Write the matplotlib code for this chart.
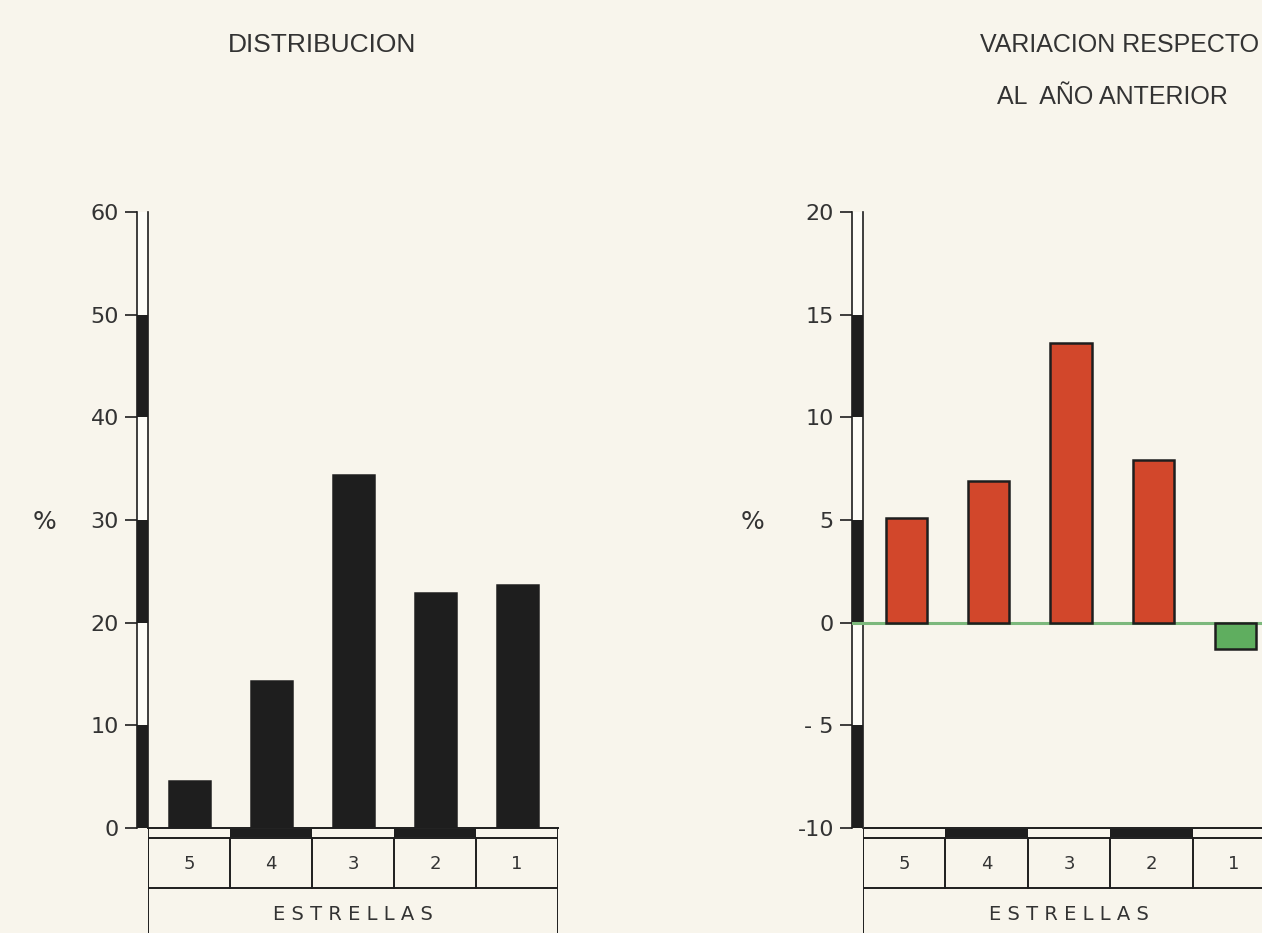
"""Hotel statistics by star category: distribution and yearly variation."""

import matplotlib
matplotlib.use('Agg')
import matplotlib.pyplot as plt
from matplotlib.patches import Rectangle

# Figure size in pixels
W, H = 1262, 933

# Data
categories = ['5', '4', '3', '2', '1']
distribucion = [4.6, 14.3, 34.4, 22.9, 23.7]
variacion = [5.1, 6.9, 13.6, 7.9, -1.3]
left_ticks = [0, 10, 20, 30, 40, 50, 60]
right_ticks = [-10, -5, 0, 5, 10, 15, 20]
tick_labels_left = ['0', '10', '20', '30', '40', '50', '60']
tick_labels_right = ['-10', '- 5', '0', '5', '10', '15', '20']

BG = '#f8f5ec'
INK = '#1e1e1e'
TEXT = '#333333'
RED = '#d2472b'
GREEN = '#5fae5f'


def px_axes(fig, x0, y0, x1, y1):
    """Add axes using pixel coordinates measured from the top-left corner."""
    return fig.add_axes([x0 / W, 1 - y1 / H, (x1 - x0) / W, (y1 - y0) / H])


def draw_scale(fig, x0, x1, ticks, labels):
    """Double-line value axis with alternating black bands."""
    ax = px_axes(fig, x0, 212, x1, 828)
    ax.set_facecolor('#fdfcf7')
    ax.set_xlim(0, 1)
    ax.set_ylim(ticks[0], ticks[-1])
    # black bands on every other interval, starting from the bottom
    for lo, hi in zip(ticks[0:-1:2], ticks[1::2]):
        if hi == ticks[-1]:
            continue
        ax.axhspan(lo, hi, color=INK, lw=0)
    for s in ['top', 'bottom']:
        ax.spines[s].set_visible(False)
    for s in ['left', 'right']:
        ax.spines[s].set_linewidth(1.2)
        ax.spines[s].set_color(INK)
    ax.set_xticks([])
    ax.set_yticks(ticks)
    ax.set_yticklabels(labels, fontsize=16, color=TEXT)
    ax.tick_params(axis='y', length=9, width=1.2, color=INK, pad=4)
    return ax


def draw_table(fig, x0, x1):
    """Category strip, star cells and ESTRELLAS row under the bars."""
    ax = px_axes(fig, x0, 828, x1, 933)
    ax.set_xlim(-0.5, len(categories) - 0.5)
    ax.set_ylim(105, 0)
    ax.axis('off')
    n = len(categories)
    lw = 1.4
    # black segments in the strip for every second column
    for i in range(1, n, 2):
        ax.add_patch(Rectangle((i - 0.5, 1), 1, 8, facecolor=INK, lw=0))
    ax.plot([-0.5, n - 0.5], [10, 10], color=INK, lw=lw)
    ax.plot([-0.5, n - 0.5], [60, 60], color=INK, lw=lw)
    for i in range(n + 1):
        ax.plot([i - 0.5, i - 0.5], [10, 60], color=INK, lw=lw)
    ax.plot([-0.5, -0.5], [0, 105], color=INK, lw=lw)
    ax.plot([n - 0.5, n - 0.5], [0, 105], color=INK, lw=lw)
    for i, c in enumerate(categories):
        ax.text(i, 36, c, ha='center', va='center', fontsize=13, color=TEXT)
    ax.text((n - 1) / 2, 86, 'E S T R E L L A S', ha='center', va='center',
            fontsize=14, color=TEXT)


def draw_bars(fig, x0, x1, values, ticks, colors):
    """Main bar area."""
    ax = px_axes(fig, x0, 212, x1, 828)
    ax.patch.set_alpha(0)
    x = range(len(categories))
    ax.bar(x, values, width=0.5, color=colors, edgecolor=INK, linewidth=1.8)
    ax.set_xlim(-0.5, len(categories) - 0.5)
    ax.set_ylim(ticks[0], ticks[-1])
    for s in ['top', 'right', 'left']:
        ax.spines[s].set_visible(False)
    ax.spines['bottom'].set_linewidth(1.4)
    ax.spines['bottom'].set_color(INK)
    ax.set_xticks([])
    ax.set_yticks([])
    return ax


def main():
    fig = plt.figure(figsize=(W / 100, H / 100), dpi=100)
    fig.patch.set_facecolor(BG)

    # Left panel: distribution
    draw_scale(fig, 137, 148, left_ticks, tick_labels_left)
    draw_bars(fig, 148, 558, distribucion, left_ticks, INK)
    draw_table(fig, 148, 558)
    fig.text(322 / W, 1 - 45 / H, 'DISTRIBUCION', ha='center', va='center',
             fontsize=19, color=TEXT, family='Liberation Sans')
    fig.text(45 / W, 1 - 522 / H, '%', ha='center', va='center',
             fontsize=18, color=TEXT)

    # Right panel: variation from previous year
    draw_scale(fig, 852, 863, right_ticks, tick_labels_right)
    colors = [RED if v >= 0 else GREEN for v in variacion]
    ax = draw_bars(fig, 865, 1277, variacion, right_ticks, colors)
    ax.axhline(0, xmin=-0.03, color='#7cb87c', lw=2.2, zorder=0, clip_on=False)
    draw_table(fig, 863, 1275)
    fig.text(1120 / W, 1 - 45 / H, 'VARIACION RESPECTO', ha='center', va='center',
             fontsize=18, color=TEXT, family='Liberation Sans')
    fig.text(1112 / W, 1 - 97 / H, 'AL  AÑO ANTERIOR', ha='center', va='center',
             fontsize=18, color=TEXT, family='Liberation Sans')
    fig.text(752 / W, 1 - 522 / H, '%', ha='center', va='center',
             fontsize=18, color=TEXT)

    fig.savefig('out.png', dpi=100, facecolor=BG)
    plt.close(fig)


if __name__ == '__main__':
    main()
